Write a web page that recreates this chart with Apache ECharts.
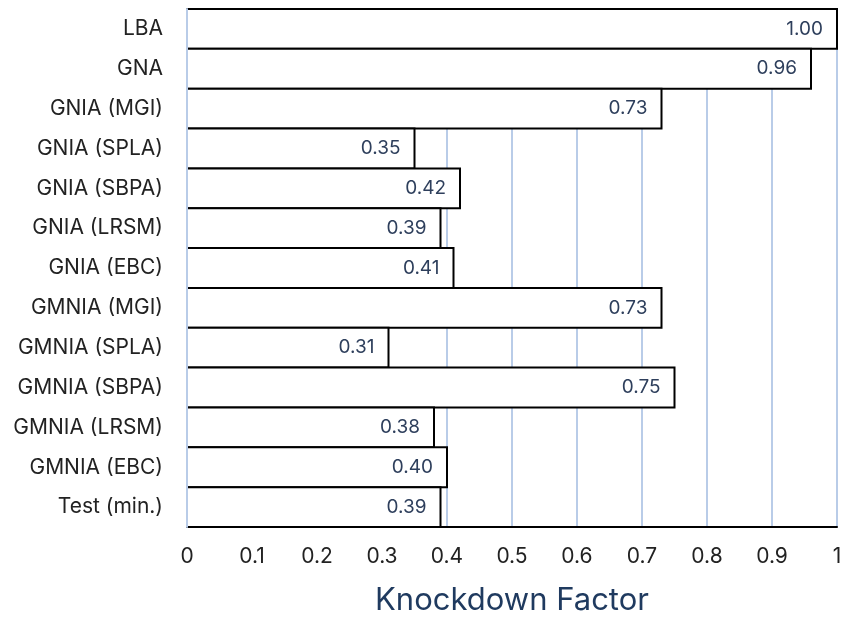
<!DOCTYPE html>
<html>
<head>
<meta charset="utf-8">
<script src="https://cdn.jsdelivr.net/npm/echarts@6/dist/echarts.min.js"></script>
<style>
  html, body { margin: 0; padding: 0; background: #fff; }
  #chart { width: 843px; height: 617px; }
</style>
</head>
<body>
<div id="chart"></div>
<script>
// Analysis methods, top to bottom
const methods = [
  'LBA', 'GNA', 'GNIA (MGI)', 'GNIA (SPLA)', 'GNIA (SBPA)', 'GNIA (LRSM)',
  'GNIA (EBC)', 'GMNIA (MGI)', 'GMNIA (SPLA)', 'GMNIA (SBPA)', 'GMNIA (LRSM)',
  'GMNIA (EBC)', 'Test (min.)'
];
// Knockdown factor for each method
const knockdown = [1.00, 0.96, 0.73, 0.35, 0.42, 0.39, 0.41, 0.73, 0.31, 0.75, 0.38, 0.40, 0.39];
// Value axis ticks
const xTicks = [0, 0.1, 0.2, 0.3, 0.4, 0.5, 0.6, 0.7, 0.8, 0.9, 1];

const FONT = 'Inter, "Open Sans", sans-serif';
const chart = echarts.init(document.getElementById('chart'), null, { renderer: 'canvas' });

const tickText = v => {
  const t = xTicks.find(x => Math.abs(x - v) < 1e-9);
  return t === undefined ? '' : String(t);
};

// Each bar: white fill, black outline on top, end and bottom (the open left side
// sits on the light-blue axis line), and its value written inside the end.
function renderBar(params, api) {
  const value = api.value(0);
  const cat = api.value(1);
  const start = api.coord([0, cat]);
  const end = api.coord([value, cat]);
  const band = api.size([0, 1])[1];
  const x0 = start[0], x1 = end[0];
  const y0 = start[1] - band / 2, y1 = start[1] + band / 2;
  return {
    type: 'group',
    children: [
      { type: 'rect', shape: { x: x0, y: y0, width: x1 - x0, height: band },
        style: { fill: '#ffffff' } },
      { type: 'polyline', shape: { points: [[x0, y0], [x1, y0], [x1, y1], [x0, y1]] },
        style: { stroke: '#000', lineWidth: 2, fill: null } },
      { type: 'text',
        style: { text: value.toFixed(2), x: x1 - 14, y: start[1], align: 'right',
                 verticalAlign: 'middle', fill: '#2E3F5C', fontSize: 19, fontFamily: FONT } }
    ]
  };
}

chart.setOption({
  animation: false,
  backgroundColor: '#ffffff',
  grid: {
    left: 187, right: 6, top: 9, bottom: 90,
    containLabel: false,
    outerBoundsMode: 'none'
  },
  xAxis: [
    {
      // gridlines and tick labels, beneath the bars
      type: 'value',
      min: xTicks[0],
      max: xTicks[xTicks.length - 1],
      interval: 0.1,
      name: 'Knockdown Factor',
      nameLocation: 'middle',
      nameGap: 58,
      nameTextStyle: { fontFamily: FONT, fontSize: 31, color: '#1F3A5F' },
      axisLine: { show: false },
      axisTick: { show: false },
      axisLabel: { margin: 19, fontFamily: FONT, fontSize: 21, color: '#222', formatter: tickText },
      splitLine: { show: true, lineStyle: { color: '#B9CCE8', width: 2 } }
    },
    {
      // black baseline drawn over the bars
      type: 'value',
      min: xTicks[0],
      max: xTicks[xTicks.length - 1],
      interval: 0.1,
      position: 'bottom',
      z: 5,
      axisLine: { show: true, lineStyle: { color: '#000', width: 2 } },
      axisTick: { show: false },
      axisLabel: { show: false },
      splitLine: { show: false }
    }
  ],
  yAxis: [
    {
      type: 'category',
      data: methods,
      inverse: true,
      z: 10,
      axisLine: { show: true, onZero: false, lineStyle: { color: '#B9CCE8', width: 2 } },
      axisTick: { show: false },
      axisLabel: { margin: 24, fontFamily: FONT, fontSize: 21, color: '#222' }
    },
    {
      type: 'category',
      data: methods,
      inverse: true,
      position: 'right',
      z: 5,
      axisLine: { show: true, lineStyle: { color: '#000', width: 2 } },
      axisTick: { show: false },
      axisLabel: { show: false }
    }
  ],
  series: [{
    type: 'custom',
    xAxisIndex: 0,
    yAxisIndex: 0,
    renderItem: renderBar,
    encode: { x: 0, y: 1 },
    data: knockdown.map((v, i) => [v, i])
  }]
});
</script>
</body>
</html>
